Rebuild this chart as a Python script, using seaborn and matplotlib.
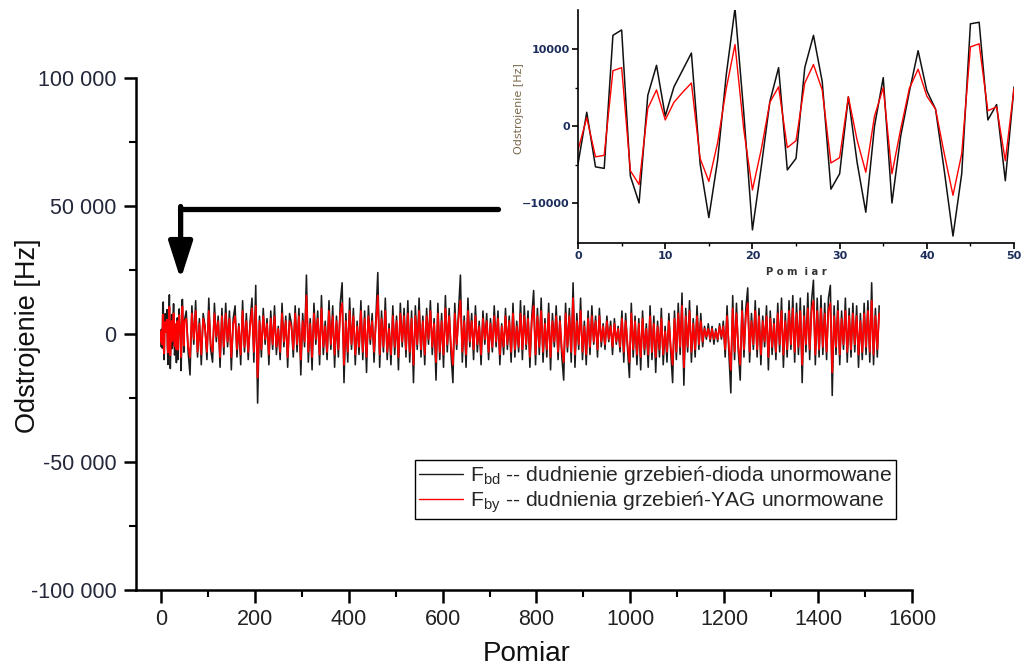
import numpy as np
import pandas as pd
import matplotlib
matplotlib.use("Agg")
import matplotlib.pyplot as plt
import seaborn as sns

# ---------------- data ----------------
# Inset: Pomiar 0..50 (Hz)
inset_black = [-4900, 1800, -5300, -5500, 11800, 12500, -6500, -10000, 4000, 7900,
               1300, 5100, 7300, 9500, -4900, -11900, -4500, 6700, 15300, 1800,
               -13500, -5400, 3200, 7600, -5700, -4200, 7600, 11800, 5800, -8200,
               -6200, 3800, -4700, -11200, 0, 6300, -10000, -1300, 4500, 9800,
               4600, 2200, -5800, -14300, -6200, 13300, 13500, 800, 2800, -7100,
               5100]
inset_red = [-3100, 1100, -4000, -3800, 7200, 7600, -5800, -7600, 2300, 4700,
             800, 3100, 4400, 5600, -4200, -7200, -2200, 4900, 10600, -400,
             -8300, -3100, 3100, 5100, -2800, -1900, 5600, 8000, 4700, -4800,
             -4100, 3800, -1800, -6000, 1300, 5000, -6200, -400, 4900, 7400,
             3900, 2200, -3600, -9000, -3600, 10300, 10700, 2000, 2500, -4500,
             4900]

# Main chart beyond the inset range, every 4th measurement from Pomiar 54 (kHz)
main_black_k = [
    9, -7, -16, 11, -4, 13, -9, 6, -12, 8, 3, -10, 14, -6, -11, 12, -3, 7, -13, 10,
    -8, 12, -5, 9, -14, 6, 11, -9, 4, -12, 13, -7, 8, -10, 5, 14, -11, 19, -27, 7,
    -9, 10, -4, 6, -12, 9, -6, 11, -8, 3, -10, 12, -5, 7, -13, 8, 4, -9, 11, -7,
    10, -16, 8, -5, 23, -11, 6, -14, 12, -4, 9, -12, 15, -8, 5, -10, 13, -6, 11, -13,
    7, -9, 12, 20, -19, 8, -11, 14, -6, 10, -12, 5, -8, 13, -10, 9, -15, 11, -4, 8,
    -11, 6, 24, -13, 9, -7, 14, -10, 4, -12, 11, -8, 7, -14, 12, -5, 10, -9, 13, -11,
    9, -19, 11, -6, 14, -9, 7, -12, 10, -4, 13, -8, 6, -18, 12, -10, 8, -13, 15, -7,
    10, -8, -19, 12, -6, 9, 23, -11, 7, -13, 14, -5, 8, -10, 11, -7, 5, -12, 9, -4,
    8, -10, 6, -7, 11, -5, 9, -12, 4, -8, 10, -6, 7, -11, 12, -9, 5, -7, 13, -10,
    11, -6, 9, -13, 7, 17, -12, 10, -8, 14, -11, 6, -9, 12, -14, 8, -5, 11, -10, 7,
    -9, -18, 12, -7, 10, -11, 20, -13, 8, -6, 14, -10, 5, -12, 9, -8, 11, -4, 7, -9,
    10, -5, 4, -6, 7, -3, 5, -8, 6, -4, 3, -7, 9, -11, 8, -6, -17, 12, -9, 7,
    -12, 6, -14, 9, -8, 4, -13, 11, -10, 7, -15, 5, -9, 10, -12, 3, -11, 8, -7, -19,
    9, -10, 12, -8, 16, -20, 10, -7, 13, -11, 6, -9, 11, -6, 8, -5, 3, -2, 4, -3,
    3, -4, 2, -3, 4, -2, 5, -9, 11, -8, -23, 15, -10, 12, -7, -18, 13, -9, 10, 18,
    -11, 8, -6, 13, -9, 10, -12, 7, -5, 11, -14, 9, -8, 6, -10, 12, -7, 14, -13, 8,
    -9, 13, -6, 15, -11, 12, -8, 14, -19, 11, -7, 16, -10, 13, 21, -12, 14, -9, 15, -8,
    12, -10, 14, 19, -24, 11, -8, 13, -12, 9, -6, 14, -11, 10, -9, 12, -7, 11, -13, 8,
    -10, 12, -8, 13, -11, 20, -12, 10, -9, 11,
]
main_red_k = [
    6, -5, -9, 8, -2, 9, -7, 4, -8, 6, 2, -7, 9, -4, -7, 8, -1, 5, -9, 7,
    -5, 8, -3, 6, -9, 4, 7, -6, 3, -8, 9, -5, 5, -7, 3, 10, -7, 11, -17, 5,
    -6, 7, -2, 4, -8, 6, -4, 7, -5, 2, -7, 8, -3, 5, -9, 5, 3, -6, 8, -4,
    7, -10, 5, -3, 15, -7, 4, -9, 8, -2, 6, -8, 10, -5, 3, -7, 9, -4, 7, -8,
    5, -6, 8, 12, -12, 5, -7, 9, -4, 7, -8, 3, -5, 9, -7, 6, -9, 7, -2, 5,
    -7, 4, 15, -8, 6, -5, 9, -7, 2, -8, 7, -5, 5, -9, 8, -3, 7, -6, 8, -7,
    6, -12, 7, -4, 9, -6, 5, -8, 7, -2, 9, -5, 4, -11, 8, -7, 5, -8, 10, -4,
    7, -5, -12, 8, -4, 6, 13, -7, 5, -8, 9, -3, 5, -6, 7, -4, 3, -8, 6, -2,
    5, -7, 4, -5, 7, -3, 6, -8, 3, -5, 7, -4, 5, -7, 8, -6, 3, -5, 8, -6,
    7, -4, 6, -9, 5, 11, -8, 7, -5, 9, -7, 4, -6, 8, -9, 5, -3, 7, -7, 5,
    -6, -11, 8, -5, 7, -7, 14, -8, 5, -4, 9, -7, 3, -8, 6, -5, 7, -3, 5, -6,
    7, -3, 3, -4, 5, -2, 3, -5, 4, -3, 2, -5, 6, -7, 5, -4, -11, 8, -6, 5,
    -8, 4, -9, 6, -6, 2, -8, 7, -7, 4, -9, 3, -6, 6, -8, 1, -7, 5, -5, -12,
    6, -7, 8, -5, 11, -13, 7, -5, 9, -7, 4, -6, 7, -4, 5, -3, 2, -1, 2, -2,
    2, -2, 1, -2, 3, -1, 3, -6, 7, -5, -14, 10, -7, 8, -5, -12, 9, -6, 7, 12,
    -7, 5, -4, 9, -6, 7, -8, 5, -3, 7, -9, 6, -5, 4, -7, 8, -4, 9, -8, 5,
    -6, 9, -4, 10, -7, 8, -5, 9, -12, 7, -4, 10, -6, 9, 13, -8, 9, -6, 10, -5,
    8, -7, 9, 12, -15, 7, -5, 9, -8, 6, -4, 9, -7, 7, -6, 8, -4, 7, -8, 5,
    -7, 8, -5, 9, -7, 13, -8, 7, -6, 8,
]

inset_x = np.arange(len(inset_black))
main_x = np.concatenate([inset_x, np.arange(54, 54 + 4 * len(main_black_k), 4)])
main_black = np.concatenate([inset_black, np.array(main_black_k) * 1000])
main_red = np.concatenate([inset_red, np.array(main_red_k) * 1000])

y_ticks = [-100000, -50000, 0, 50000, 100000]
y_tick_labels = ["-100 000", "-50 000", "0", "50 000", "100 000"]
x_ticks = [0, 200, 400, 600, 800, 1000, 1200, 1400, 1600]

label_bd = r"F$_{\mathregular{bd}}$ -- dudnienie grzebień-dioda unormowane"
label_by = r"F$_{\mathregular{by}}$ -- dudnienia grzebień-YAG unormowane"

df_main = pd.DataFrame({"Pomiar": main_x, "bd": main_black, "by": main_red})
df_inset = pd.DataFrame({"Pomiar": inset_x, "bd": inset_black, "by": inset_red})

# ---------------- style ----------------
sns.set_style("ticks")
plt.rcParams["font.family"] = ["Liberation Sans", "DejaVu Sans"]
plt.rcParams["mathtext.fontset"] = "custom"
plt.rcParams["mathtext.rm"] = "Liberation Sans"
plt.rcParams["mathtext.it"] = "Liberation Sans:italic"
plt.rcParams["mathtext.bf"] = "Liberation Sans:bold"

fig = plt.figure(figsize=(10.22, 6.69), dpi=100)
fig.patch.set_facecolor("white")

# ---------------- main axes ----------------
ax = fig.add_axes([0.1331, 0.1181, 0.7593, 0.7653])
sns.lineplot(data=df_main, x="Pomiar", y="bd", ax=ax, color="#1a1a1a", lw=1.15,
             estimator=None, sort=False, label=label_bd)
sns.lineplot(data=df_main, x="Pomiar", y="by", ax=ax, color="#ff0000", lw=1.3,
             estimator=None, sort=False, label=label_by)

ax.set_xlim(-53, 1600)
ax.set_ylim(-100000, 100000)
ax.set_yticks(y_ticks)
ax.set_yticklabels(y_tick_labels)
ax.set_yticks([-75000, -25000, 25000, 75000], minor=True)
ax.set_xticks(x_ticks)
ax.set_xticks([100, 300, 500, 700, 900, 1100, 1300, 1500], minor=True)
for s in ["top", "right"]:
    ax.spines[s].set_visible(False)
for s in ["left", "bottom"]:
    ax.spines[s].set_linewidth(1.8)
    ax.spines[s].set_color("black")
ax.tick_params(axis="both", which="major", direction="out", length=9, width=1.8,
               color="black")
ax.tick_params(axis="both", which="minor", direction="out", length=5, width=1.5,
               color="black")
ax.tick_params(axis="y", which="major", labelsize=15.5, labelcolor="#23283a", pad=5)
ax.tick_params(axis="x", which="major", labelsize=15.5, labelcolor="#222222", pad=5)

ax.set_xlabel("Pomiar", fontsize=20, color="#111111")
ax.set_ylabel("Odstrojenie [Hz]", fontsize=19.5, color="#111111")
ax.xaxis.set_label_coords(0.504, -0.100)
ax.yaxis.set_label_coords(-0.122, 0.497)

leg = ax.legend(loc="upper left", bbox_to_anchor=(0.406, 0.312),
                bbox_transform=fig.transFigure, fontsize=15.2, frameon=True,
                fancybox=False, framealpha=1, edgecolor="black",
                handlelength=2.1, handletextpad=0.3, borderpad=0.2,
                labelspacing=0.1, borderaxespad=0)
leg.get_frame().set_linewidth(1.0)
for line in leg.get_lines():
    line.set_linewidth(1.0)

# arrow pointing from the inset to the start of the series
ax.plot([40, 719], [48900, 48900], color="black", lw=3.8, solid_capstyle="round",
        solid_joinstyle="miter")
ax.annotate("", xy=(42, 21300), xytext=(42, 49800),
            arrowprops=dict(arrowstyle="-|>,head_length=0.75,head_width=0.24",
                            lw=3.8, color="black", mutation_scale=30,
                            shrinkA=0, shrinkB=0))

# ---------------- inset ----------------
ax2 = fig.add_axes([0.5656, 0.6368, 0.4266, 0.3483])
ax2.patch.set_alpha(0)
sns.lineplot(data=df_inset, x="Pomiar", y="bd", ax=ax2, color="#111111", lw=1.1,
             estimator=None, sort=False, legend=False)
sns.lineplot(data=df_inset, x="Pomiar", y="by", ax=ax2, color="#ff0000", lw=1.0,
             estimator=None, sort=False, legend=False)
ax2.set_xlim(0, 50)
ax2.set_ylim(-15200, 15100)
ax2.set_xticks([0, 10, 20, 30, 40, 50])
ax2.set_xticks([5, 15, 25, 35, 45], minor=True)
ax2.set_yticks([-10000, 0, 10000])
ax2.set_yticks([-5000, 5000], minor=True)
for s in ["top", "right"]:
    ax2.spines[s].set_visible(False)
for s in ["left", "bottom"]:
    ax2.spines[s].set_linewidth(1.2)
    ax2.spines[s].set_color("black")
ax2.tick_params(axis="both", which="major", direction="out", length=4, width=1.2,
                color="black", labelsize=8, labelcolor="#1c2d5c", pad=2)
ax2.tick_params(axis="both", which="minor", direction="out", length=2.5, width=1.0,
                color="black")
for t in ax2.get_xticklabels() + ax2.get_yticklabels():
    t.set_fontfamily("DejaVu Sans")
    t.set_fontweight("bold")
ax2.set_xlabel("P o m  i a r", fontsize=7.2, color="#333333",
               fontfamily="DejaVu Sans", fontweight="bold")
ax2.set_ylabel("Odstrojenie [Hz]", fontsize=8, color="#7a6a4a",
               fontfamily="DejaVu Sans")
ax2.xaxis.set_label_coords(0.5, -0.105)
ax2.yaxis.set_label_coords(-0.125, 0.575)

fig.savefig("out.png", dpi=100, facecolor="white")
